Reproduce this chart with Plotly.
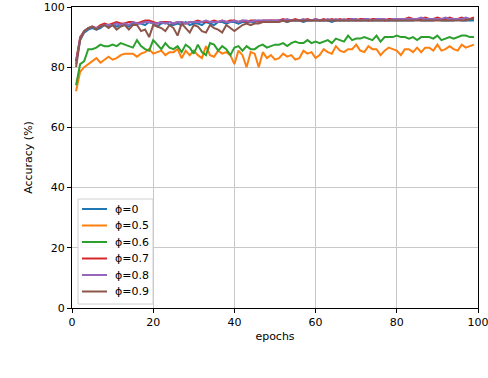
import plotly.graph_objects as go

epochs = list(range(1, 100))

acc_0 = [82, 89, 91.5, 92.5, 93, 92.5, 93, 94, 93.5, 94,
         93.5, 94, 94, 93.5, 94.5, 94.5, 94.5, 94, 95, 94.5,
         93.5, 94.5, 95, 94, 94, 94.5, 94, 95, 94, 94.5,
         94.5, 94, 95, 94.5, 94, 95, 95, 94.5, 95, 95,
         94.5, 95, 95, 95, 95, 95.5, 95, 95, 95.5, 95,
         95.5, 95.5, 95, 95.5, 95.5, 95.5, 95, 95.5, 95.5, 95.5,
         95.5, 95.5, 95.5, 95, 95.5, 95.5, 95.5, 95.5, 95.5, 95.5,
         95.5, 95.5, 95.5, 95.5, 95.5, 95.5, 95.5, 95.5, 95.5, 95.5,
         95.5, 95.5, 95.5, 95.5, 96, 95.5, 95.5, 95.5, 95.5, 96,
         95.5, 95.5, 95.5, 95.5, 96, 95.5, 95.5, 95.5, 95.5]

acc_05 = [72, 78.5, 80, 81, 82, 83, 81.5, 82.5, 83.5, 82.5,
          83, 84, 84.5, 84.5, 84.5, 83.5, 84.5, 85, 86, 84.5,
          85, 85.5, 84, 85, 85, 86, 83, 85.5, 84, 85.5,
          84, 83, 87, 84, 83.5, 85.5, 84.5, 85, 84, 81,
          85.5, 84, 80, 85, 84.5, 80, 85, 83, 84, 82.5,
          83, 84.5, 83.5, 84, 82.5, 83, 85.5, 84.5, 85, 83,
          84, 86, 85, 84.5, 87, 85.5, 85, 86, 86, 87.5,
          85.5, 85, 87, 86, 86, 84, 85.5, 86.5, 86, 85.5,
          84, 86, 86, 85, 86.5, 85, 86.5, 86.5, 85.5, 87.5,
          85.5, 86, 87, 86, 85.5, 87.5, 86.5, 87, 87.5]

acc_06 = [74, 81, 82, 86, 86, 86.5, 87.5, 87, 87, 87.5,
          87, 88, 87.5, 87, 86.5, 89, 87, 86, 85.5, 89,
          87.5, 86, 88, 86.5, 86, 87, 85, 87.5, 86.5, 84.5,
          87.5, 85, 84, 88, 87.5, 85.5, 87, 86, 84, 86.5,
          87, 85.5, 87, 86, 86, 87, 87.5, 86.5, 87, 87.5,
          87.5, 88, 87, 88, 88.5, 88, 88, 89, 88, 88.5,
          88, 88.5, 89, 88, 89.5, 89, 88.5, 90.5, 89, 89.5,
          89.5, 90, 89.5, 89, 90.5, 88.5, 90, 90, 90, 90.5,
          90, 90, 89.5, 90, 89, 90, 90, 90, 89.5, 90.5,
          89, 89.5, 90, 89.5, 90, 90.5, 90.5, 90, 90]

acc_07 = [82, 90, 92, 93, 93.5, 93, 94, 94.5, 94, 94.5,
          95, 94.5, 94.5, 95, 95, 94.5, 95, 95.5, 95.5, 95,
          94.5, 95, 95, 95, 94.5, 95, 95, 94.5, 95, 95,
          95.5, 95, 95, 95, 95.5, 95, 95.5, 95, 95.5, 95.5,
          95, 95.5, 95, 95.5, 95.5, 95, 95.5, 95.5, 95.5, 95.5,
          95.5, 96, 95.5, 95.5, 96, 95.5, 95.5, 96, 95.5, 96,
          95.5, 96, 95.5, 96, 95.5, 96, 95.5, 96, 96, 95.5,
          96, 96, 95.5, 96, 96, 96, 95.5, 96, 96, 96,
          96, 96, 96.5, 96, 96, 96, 96.5, 96, 96, 96.5,
          96, 96, 96.5, 96, 96, 96.5, 96, 96, 96.5]

acc_08 = [81, 89.5, 92, 93, 93.5, 93, 93.5, 94, 94, 94,
          94.5, 94, 94.5, 94, 95, 94.5, 94.5, 95, 95, 94.5,
          94.5, 95, 94.5, 95, 94.5, 95, 95, 94.5, 95, 95,
          95, 95, 95.5, 95, 95, 95, 95.5, 95, 95, 95.5,
          95, 95.5, 95.5, 95, 95.5, 95.5, 95.5, 95.5, 95.5, 95.5,
          95.5, 95.5, 96, 95.5, 95.5, 95.5, 96, 95.5, 95.5, 96,
          95.5, 95.5, 96, 95.5, 96, 95.5, 96, 95.5, 96, 96,
          95.5, 96, 96, 95.5, 96, 96, 96, 95.5, 96, 96,
          96, 96, 96, 96, 96, 96.5, 96, 96, 96, 96,
          96, 96.5, 96, 96, 96, 96, 96.5, 96, 96]

acc_09 = [80, 89, 92, 93, 93.5, 92.5, 93.5, 94, 93, 94,
          92.5, 93.5, 94, 92.5, 94, 94, 92, 92.5, 90, 94,
          93.5, 93, 92, 94, 93, 90.5, 94.5, 93, 91.5, 94,
          93.5, 92, 91.5, 94, 93, 92.5, 91.5, 94, 93, 92,
          93, 94, 94.5, 94, 94.5, 94.5, 95, 95, 95, 95,
          95, 95.5, 95, 95.5, 95.5, 95.5, 95.5, 95.5, 95.5, 95.5,
          95.5, 95.5, 95.5, 95.5, 95.5, 95.5, 95.5, 95.5, 95.5, 95.5,
          95.5, 95.5, 95.5, 95.5, 95.5, 95.5, 95.5, 95.5, 95.5, 95.5,
          95.5, 95.5, 95.5, 95.5, 95.5, 95.5, 95.5, 95.5, 95.5, 95.5,
          95.5, 95.5, 95.5, 95.5, 95.5, 95.5, 95.5, 96, 96]

series = [
    ("ϕ=0", acc_0, "#1f77b4"),
    ("ϕ=0.5", acc_05, "#ff7f0e"),
    ("ϕ=0.6", acc_06, "#2ca02c"),
    ("ϕ=0.7", acc_07, "#d62728"),
    ("ϕ=0.8", acc_08, "#9467bd"),
    ("ϕ=0.9", acc_09, "#8c564b"),
]

fig = go.Figure()
for name, y, color in series:
    fig.add_trace(go.Scatter(x=epochs, y=y, mode="lines", name=name,
                             line=dict(color=color, width=2)))

axis_common = dict(
    showline=True, linecolor="black", linewidth=1, mirror=True,
    ticks="outside", ticklen=4, tickcolor="black",
    showgrid=True, gridcolor="#c8c8c8", gridwidth=1,
    zeroline=False, tickfont=dict(size=11, color="black"),
    automargin=False, ticklabeloverflow="allow",
)
fig.update_xaxes(range=[0, 100], tickvals=[0, 20, 40, 60, 80, 100],
                 title=dict(text="epochs", font=dict(size=11, color="black"),
                            standoff=4),
                 **axis_common)
fig.update_yaxes(range=[0, 100], tickvals=[0, 20, 40, 60, 80, 100],
                 title=dict(text="Accuracy (%)", font=dict(size=11, color="black"),
                            standoff=8),
                 **axis_common)

# compact matplotlib-style legend, drawn by hand (plotly's rows are taller)
# plot area in px: x 72..478, y 7..308
px = lambda x: (x - 72) / 406
py = lambda y: (308 - y) / 301
fig.add_shape(type="rect", xref="paper", yref="paper",
              x0=px(78), x1=px(153), y0=py(304), y1=py(199),
              line=dict(color="#d0d0d0", width=1),
              fillcolor="rgba(255,255,255,0.85)", layer="above")
for i, (name, _, color) in enumerate(series):
    row = 209 + 16.5 * i
    fig.add_shape(type="line", xref="paper", yref="paper",
                  x0=px(82), x1=px(107), y0=py(row), y1=py(row),
                  line=dict(color=color, width=2), layer="above")
    fig.add_annotation(xref="paper", yref="paper", x=px(113), y=py(row),
                       text=name, showarrow=False, xanchor="left",
                       yanchor="middle", font=dict(size=11, color="black"))

fig.update_layout(
    width=488, height=378,
    margin=dict(l=72, r=10, t=7, b=70, autoexpand=False),
    plot_bgcolor="white", paper_bgcolor="white",
    font=dict(family="DejaVu Sans", color="black"),
    showlegend=False,
)

# page body default margin would shift the figure by 8px
fig.write_html("out.html", config={"displayModeBar": False},
               post_script="document.body.style.margin='0';")
